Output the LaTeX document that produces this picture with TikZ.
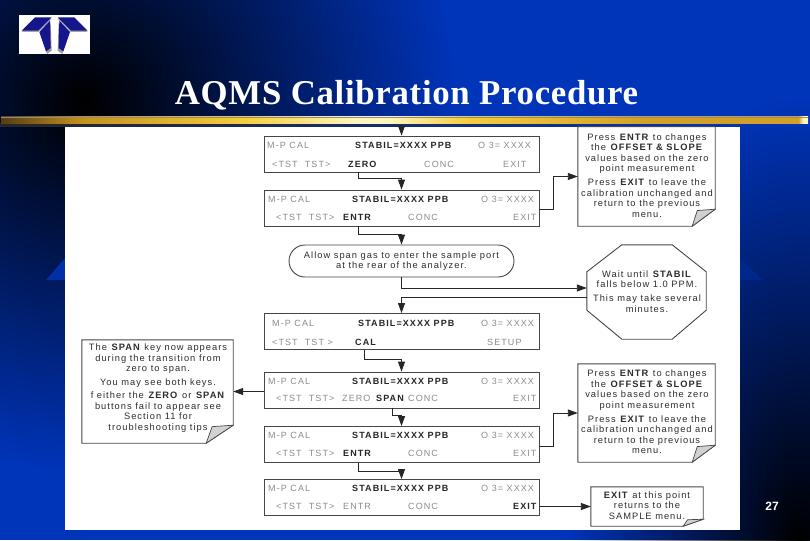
\documentclass[tikz,border=0pt]{standalone}
\usepackage{fontspec}
\setmainfont{Liberation Sans}
\newfontfamily\lcdf[LetterSpace=12]{Liberation Sans}
\newfontfamily\notef[LetterSpace=11]{Liberation Sans}
\newfontfamily\titlef[LetterSpace=2]{Liberation Serif}
\usetikzlibrary{arrows.meta,fadings,calc}
\definecolor{slideblue}{RGB}{0,52,185}
\definecolor{wingblue}{RGB}{22,22,140}
\definecolor{lcdgrey}{RGB}{140,140,140}
\definecolor{inkgrey}{RGB}{45,45,45}
\definecolor{edgegrey}{RGB}{70,70,70}
\definecolor{gA}{RGB}{85,60,20}
\definecolor{gB}{RGB}{195,145,30}
\definecolor{gC}{RGB}{255,245,190}
\definecolor{gD}{RGB}{245,205,60}
\definecolor{gE}{RGB}{210,160,40}
\tikzfading[name=glow,inner color=transparent!0,outer color=transparent!100]
\pgfdeclarehorizontalshading{goldbar}{100bp}{
 color(0bp)=(gA);
 color(25bp)=(gA);
 color(30bp)=(gB);
 color(40bp)=(gD);
 color(47bp)=(gC);
 color(49bp)=(gC);
 color(54bp)=(gD);
 color(65bp)=(gE);
 color(74.4bp)=(gE);
 color(74.7bp)=(gC);
 color(75bp)=(gC);
 color(100bp)=(gC)}
\tikzset{
 lcdbox/.style={draw=edgegrey,line width=0.9pt,fill=white,minimum width=275pt,minimum height=36pt,inner sep=0pt},
 lcd/.style={anchor=west,inner sep=0pt,text=lcdgrey,font=\fontsize{9}{10}\lcdf},
 lcdb/.style={lcd,text=black!85,font=\fontsize{9}{10}\lcdf\bfseries},
 noteframe/.style={inner sep=0pt,draw=none},
 notebody/.style={draw=edgegrey,line width=0.9pt,fill=white},
 foldcurl/.style={draw=edgegrey,line width=0.7pt,fill=black!18},
 notetext/.style={inner sep=0pt,align=center,text=inkgrey,font=\fontsize{9.3}{10.5}\notef},
 conn/.style={draw=black!85,line width=0.9pt,-{Triangle[length=10pt,width=7pt]}},
 wing/.style={fill=wingblue,draw=none}
}
\newcommand{\foldednote}[3]{%
 \draw[notebody] (#1.north west) -- (#1.north east) -- ($(#1.south east)+(0,-#3)$) -- ($(#1.south east)+(-#2,0)$) -- (#1.south west) -- cycle;
 \draw[foldcurl] ($(#1.south east)+(0,-#3)$) -- ($(#1.south east)+(-0.78*#2,-0.92*#3)$) -- ($(#1.south east)+(-#2,0)$) -- cycle;}
\begin{document}
\begin{tikzpicture}[x=1pt,y=-1pt]
\useasboundingbox (0,0) rectangle (810,540);
\begin{scope}
\clip (0,0) rectangle (810,540);
\fill[slideblue] (0,0) rectangle (810,540);
\fill[black,path fading=glow] (85,100) circle (370);
\fill[black,path fading=glow] (800,540) ellipse (230 and 440);
\fill[black!10!slideblue] (46,280) -- (65,258) -- (65,280) -- cycle;
\fill[black!25!slideblue] (762,280) -- (740,258) -- (740,280) -- cycle;
\end{scope}
% gold bar
\shade[left color=black!85,right color=slideblue] (0,124) rectangle (810,127);
\shade[shading=goldbar] (1,117) rectangle (808,124);
\draw[black!45,line width=0.5pt] (1,117) -- (808,117);
% logo
\fill[white] (19,15) rectangle (90,54);
\begin{scope}[shift={(10,8)},x=0.3333pt,y=-0.3333pt]
 \fill[black!40] (92,80) -- (122,46) -- (125,128) -- (111,138) -- cycle;
 \fill[black!40] (176,80) -- (146,46) -- (143,128) -- (157,138) -- cycle;
 \fill[black!35] (35,72) -- (85,72) -- (125,32) -- (75,32) -- cycle;
 \fill[black!35] (233,72) -- (183,72) -- (143,32) -- (193,32) -- cycle;
 \fill[wing] (35,68) -- (85,68) -- (125,28) -- (75,28) -- cycle;
 \fill[wing] (233,68) -- (183,68) -- (143,28) -- (193,28) -- cycle;
 \fill[wing] (88,72) -- (120,38) -- (122,120) -- (108,130) -- cycle;
 \fill[wing] (180,72) -- (148,38) -- (146,120) -- (160,130) -- cycle;
\end{scope}
\node[inner sep=0pt,text=white,font=\fontsize{34.8}{38}\titlef\bfseries] (title) at (406.5,95.5) {AQMS Calibration Procedure};
% panel
\fill[white] (65,127) rectangle (740,530);
\node[inner sep=0pt,text=white,font=\fontsize{12}{14}\bfseries] (page) at (772,506) {27};
% lcd boxes
\node[lcdbox] (b1) at (401.5,154) {};
\node[lcdbox] (b2) at (401.5,208) {};
\node[lcdbox] (b3) at (401.5,331.5) {};
\node[lcdbox] (b4) at (401.5,390) {};
\node[lcdbox] (b5) at (401.5,444.5) {};
\node[lcdbox] (b6) at (401.5,497.5) {};
% box 1 text
\node[lcd] (a1) at (267,145) {M-P CAL};
\node[lcdb] (a2) at (355,145) {STABIL=XXXX PPB};
\node[lcd] (a3) at (478,145) {O 3= XXXX};
\node[lcd] (a4) at (272,164) {<TST~ TST>};
\node[lcdb] (a5) at (348,164) {ZERO};
\node[lcd] (a6) at (424,164) {CONC};
\node[lcd] (a7) at (503,164) {EXIT};
% box 2 text
\node[lcd] (c1) at (268,199) {M-P CAL};
\node[lcdb] (c2) at (352,199) {STABIL=XXXX PPB};
\node[lcd] (c3) at (481,199) {O 3= XXXX};
\node[lcd] (c4) at (276,217) {<TST~ TST>};
\node[lcdb] (c5) at (343,217) {ENTR};
\node[lcd] (c6) at (408,217) {CONC};
\node[lcd] (c7) at (513,217) {EXIT};
% box 3 text
\node[lcd] (d1) at (272,323) {M-P CAL};
\node[lcdb] (d2) at (358,323) {STABIL=XXXX PPB};
\node[lcd] (d3) at (481,323) {O 3= XXXX};
\node[lcd] (d4) at (272,342) {<TST~ TST >};
\node[lcdb] (d5) at (355,342) {CAL};
\node[lcd] (d6) at (487,342) {SETUP};
% box 4 text
\node[lcd] (e1) at (268,381) {M-P CAL};
\node[lcdb] (e2) at (352,381) {STABIL=XXXX PPB};
\node[lcd] (e3) at (481,381) {O 3= XXXX};
\node[lcd] (e4) at (276,398) {<TST~ TST>};
\node[lcd] (e5) at (342,398) {ZERO};
\node[lcdb] (e6) at (376,398) {SPAN};
\node[lcd] (e7) at (408,398) {CONC};
\node[lcd] (e8) at (513,398) {EXIT};
% box 5 text
\node[lcd] (f1) at (268,435) {M-P CAL};
\node[lcdb] (f2) at (352,435) {STABIL=XXXX PPB};
\node[lcd] (f3) at (481,435) {O 3= XXXX};
\node[lcd] (f4) at (276,453) {<TST~ TST>};
\node[lcdb] (f5) at (343,453) {ENTR};
\node[lcd] (f6) at (408,453) {CONC};
\node[lcd] (f7) at (513,453) {EXIT};
% box 6 text
\node[lcd] (g1) at (268,488) {M-P CAL};
\node[lcdb] (g2) at (352,488) {STABIL=XXXX PPB};
\node[lcd] (g3) at (481,488) {O 3= XXXX};
\node[lcd] (g4) at (276,506) {<TST~ TST>};
\node[lcd] (g5) at (343,506) {ENTR};
\node[lcd] (g6) at (408,506) {CONC};
\node[lcdb] (g7) at (513,506) {EXIT};
% oval
\node[draw=edgegrey,line width=0.9pt,rounded corners=16pt,minimum width=225pt,minimum height=32pt,inner sep=0pt,notetext] (oval) at (401.5,261)
 {Allow span gas to enter the sample port\\at the rear of the analyzer.};
% octagon
\node[noteframe,minimum width=119pt,minimum height=94pt] (oct) at (646.5,292) {};
\draw[notebody] ($(oct.north west)+(35,0)$) -- ($(oct.north east)+(-34,0)$) -- ($(oct.north east)+(0,27)$) -- ($(oct.south east)+(0,-29)$) -- ($(oct.south east)+(-34,0)$) -- ($(oct.south west)+(35,0)$) -- ($(oct.south west)+(0,-29)$) -- ($(oct.north west)+(0,27)$) -- cycle;
\node[notetext] (octt) at (647,291.5) {Wait until \textbf{STABIL}\\falls below 1.0 PPM.\\[3.5pt]This may take several\\minutes.};
% notes
\node[noteframe,minimum width=137pt,minimum height=99pt] (n1) at (646.5,176.5) {};
\foldednote{n1}{23}{17}
\node[notetext] (n1t) at (647,175.5) {Press \textbf{ENTR} to changes\\the \textbf{OFFSET \& SLOPE}\\values based on the zero\\point measurement\\[3.5pt]Press \textbf{EXIT} to leave the\\calibration unchanged and\\return to the previous\\menu.};
\node[noteframe,minimum width=137pt,minimum height=98pt] (n2) at (646.5,413) {};
\foldednote{n2}{23}{17}
\node[notetext] (n2t) at (647,412) {Press \textbf{ENTR} to changes\\the \textbf{OFFSET \& SLOPE}\\values based on the zero\\point measurement\\[3.5pt]Press \textbf{EXIT} to leave the\\calibration unchanged and\\return to the previous\\menu.};
\node[noteframe,minimum width=112pt,minimum height=39pt] (n3) at (647,506.5) {};
\foldednote{n3}{20}{7}
\node[notetext] (n3t) at (647,505.5) {\textbf{EXIT} at this point\\returns to the\\SAMPLE menu.};
\node[noteframe,minimum width=151pt,minimum height=103pt] (n4) at (157.5,391.5) {};
\foldednote{n4}{27}{18}
\node[notetext] (n4t) at (158,388) {The \textbf{SPAN} key now appears\\during the transition from\\zero to span.\\[3pt]You may see both keys.\\[3pt]f either the \textbf{ZERO} or \textbf{SPAN}\\buttons fail to appear see\\Section 11 for\\troubleshooting tips};
% connectors
\coordinate (entry) at (401.5,126);
\draw[conn] (entry) -- (b1.north);
\draw[conn] ([xshift=95pt]b1.south west) -- ++(0,6) -| (b2.north);
\draw[conn] ([xshift=95pt]b2.south west) -- ++(0,8) -| (oval.north);
\draw[conn] (oval.south) |- ([yshift=4pt]oct.west);
\draw[conn] ([yshift=-5pt]oct.west) -| (b3.north);
\draw[conn] ([xshift=101pt]b3.south west) -- ++(0,9) -| (b4.north);
\draw[conn] ([xshift=129pt]b4.south west) -- ++(0,7) -| (b5.north);
\draw[conn] ([xshift=95pt]b5.south west) -- ++(0,8) -| (b6.north);
\draw[conn] (b4.west |- n4.east) -- (n4.east);
\draw[conn] ([yshift=-1pt]b2.east) -- ++(14,0) |- (n1.west);
\draw[conn] ([yshift=-1.5pt]b5.east) -- ++(14,0) |- (n2.west);
\draw[conn] (b6.east |- n3.west) -- (n3.west);
\end{tikzpicture}
\end{document}
